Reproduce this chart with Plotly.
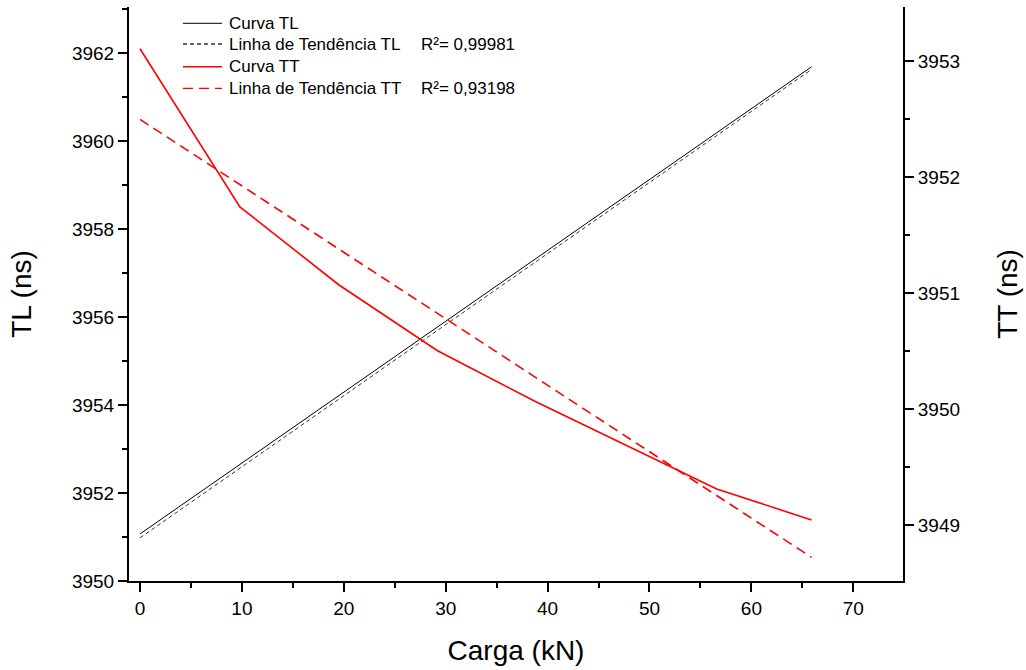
import plotly.graph_objects as go

# ---- data ----
carga = [0, 9.8, 19.5, 29.2, 38.8, 56.6, 65.9]
tl_curve = [3951.07, 3952.65, 3954.21, 3955.78, 3957.32, 3960.19, 3961.69]
tt_curve = [3953.11, 3951.745, 3951.073, 3950.503, 3950.065, 3949.31, 3949.043]

trend_x = [0, 65.9]
tl_trend = [3950.98, 3961.63]
tt_trend = [3952.50, 3948.72]

legend_names = ["Curva TL", "Linha de Tendência TL", "Curva TT", "Linha de Tendência TT"]
r2_texts = ["", "R²= 0,99981", "", "R²= 0,93198"]

FONT = "Liberation Sans, Arial, sans-serif"

styles = [
    dict(color="black", width=1),
    dict(color="#333333", width=1, dash="4px,3px"),
    dict(color="#ff0000", width=1.6),
    dict(color="#ff0000", width=1.6, dash="10px,6px"),
]

fig = go.Figure()
fig.add_trace(go.Scatter(x=carga, y=tl_curve, mode="lines", name=legend_names[0], line=styles[0]))
fig.add_trace(go.Scatter(x=trend_x, y=tl_trend, mode="lines", name=legend_names[1], line=styles[1]))
fig.add_trace(go.Scatter(x=carga, y=tt_curve, mode="lines", name=legend_names[2], yaxis="y2", line=styles[2]))
fig.add_trace(go.Scatter(x=trend_x, y=tt_trend, mode="lines", name=legend_names[3], yaxis="y2", line=styles[3]))

W, H = 1026, 670
L, R, T, B = 129, 903, 7, 581


def px_x(p):
    return (p - L) / (R - L)


def px_y(p):
    return (B - p) / (B - T)


TICK = 19
TITLE = 28
LEG = 17

axis_common = dict(showgrid=False, zeroline=False, showline=True, linecolor="black",
                   linewidth=2, ticks="outside", ticklen=9, tickwidth=2, tickcolor="black",
                   tickfont=dict(family=FONT, size=TICK, color="black"))

fig.update_layout(
    width=W, height=H,
    margin=dict(l=L, r=W - R, t=T, b=H - B),
    paper_bgcolor="white", plot_bgcolor="white",
    font=dict(family=FONT, color="black"),
    showlegend=False,
    xaxis=dict(range=[-1.08, 74.88], dtick=10, tick0=0,
               minor=dict(dtick=5, ticklen=5, tickwidth=2, tickcolor="black", ticks="outside"),
               title=dict(text="Carga (kN)", font=dict(family=FONT, size=TITLE), standoff=23),
               **axis_common),
    yaxis=dict(range=[3950, 3963.05], dtick=2, tick0=3950,
               minor=dict(dtick=1, ticklen=5, tickwidth=2, tickcolor="black", ticks="outside"),
               title=dict(text="TL (ns)", font=dict(family=FONT, size=TITLE), standoff=32),
               **axis_common),
    yaxis2=dict(range=[3948.516, 3953.47], dtick=1, tick0=3949, overlaying="y", side="right",
                minor=dict(dtick=0.5, ticklen=5, tickwidth=2, tickcolor="black", ticks="outside"),
                title=dict(text="TT (ns)", font=dict(family=FONT, size=TITLE), standoff=38),
                **axis_common),
)

# manual legend (sample lines + texts)
row_y = [23.3, 44.0, 66.7, 88.3]
for i, name in enumerate(legend_names):
    st = styles[i]
    fig.add_shape(type="line", xref="paper", yref="paper",
                  x0=px_x(183), x1=px_x(222), y0=px_y(row_y[i]), y1=px_y(row_y[i]),
                  line=dict(color=st["color"], width=st["width"] if i % 2 == 0 else 1.3,
                            dash=st.get("dash", "solid")))
    fig.add_annotation(xref="paper", yref="paper", x=px_x(227), y=px_y(row_y[i]),
                       xanchor="left", yanchor="middle", text=name, showarrow=False,
                       font=dict(family=FONT, size=LEG, color="black"))
    if r2_texts[i]:
        fig.add_annotation(xref="paper", yref="paper", x=px_x(419), y=px_y(row_y[i]),
                           xanchor="left", yanchor="middle", text=r2_texts[i], showarrow=False,
                           font=dict(family=FONT, size=LEG, color="black"))

fig.write_html("out.html")
